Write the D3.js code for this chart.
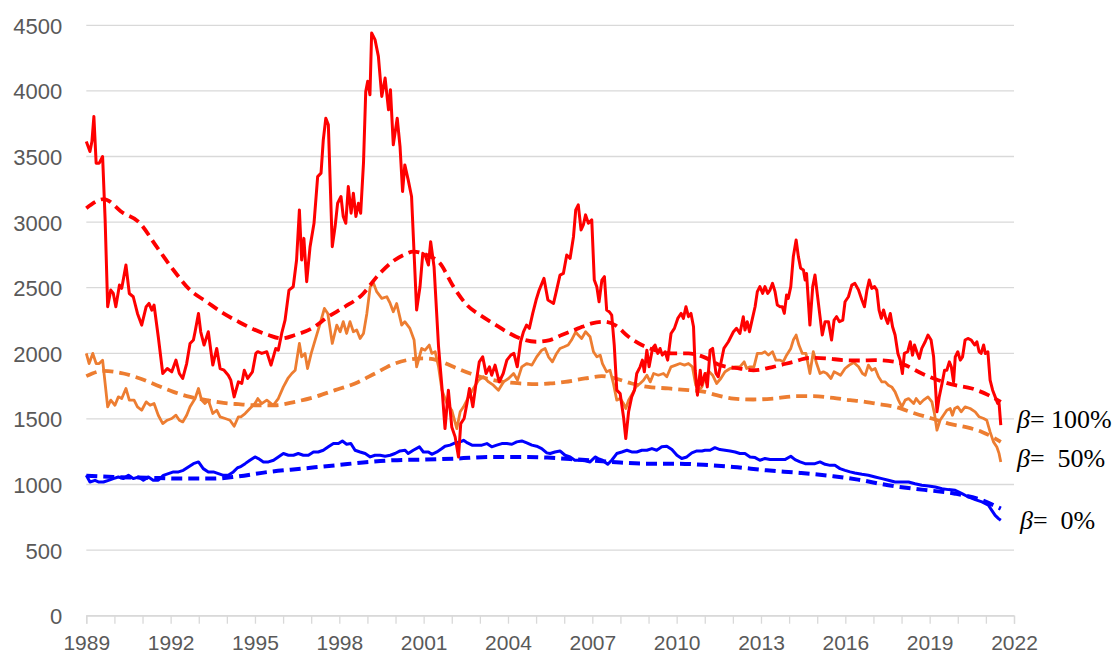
<!DOCTYPE html>
<meta charset="utf-8">
<style>
  body { margin: 0; background: #fff; }
  .grid line { stroke: #d9d9d9; stroke-width: 1.3; }
  .axis text { fill: #595959; font-family: "Liberation Sans", Arial, sans-serif; }
  .beta { font-family: "Liberation Serif", "Times New Roman", serif; font-size: 26px; fill: #000; white-space: pre; }
</style>
<body></body>
<script src="https://d3js.org/d3.v7.min.js"></script>
<script>
// values: [year, value]
var red100 = [[1989.00,3614],[1989.13,3538],[1989.20,3614],[1989.27,3805],[1989.35,3449],[1989.46,3449],[1989.58,3500],[1989.67,3017],[1989.76,2355],[1989.87,2482],[1989.96,2456],[1990.05,2355],[1990.18,2520],[1990.26,2495],[1990.41,2673],[1990.53,2456],[1990.67,2431],[1990.82,2304],[1990.97,2215],[1991.13,2355],[1991.23,2380],[1991.33,2329],[1991.41,2368],[1991.56,2126],[1991.72,1846],[1991.88,1884],[1992.04,1859],[1992.19,1948],[1992.31,1846],[1992.43,1808],[1992.57,1922],[1992.69,2075],[1992.81,2101],[1992.87,2164],[1992.99,2304],[1993.07,2164],[1993.19,2063],[1993.34,2164],[1993.50,1910],[1993.64,2037],[1993.76,1884],[1993.90,1871],[1994.05,1833],[1994.14,1795],[1994.26,1668],[1994.41,1782],[1994.53,1770],[1994.62,1871],[1994.74,1808],[1994.91,1859],[1995.03,1999],[1995.10,2012],[1995.24,1999],[1995.42,2012],[1995.57,1910],[1995.74,2037],[1995.83,2024],[1995.95,2151],[1996.07,2253],[1996.21,2482],[1996.36,2507],[1996.48,2711],[1996.58,3093],[1996.66,2711],[1996.74,2876],[1996.84,2546],[1996.96,2813],[1997.10,2991],[1997.23,3347],[1997.35,3373],[1997.43,3627],[1997.52,3792],[1997.61,3741],[1997.75,2813],[1997.85,2966],[1997.94,3144],[1998.06,3195],[1998.14,3042],[1998.23,2991],[1998.32,3271],[1998.42,3068],[1998.50,3220],[1998.59,3042],[1998.68,3144],[1998.76,3068],[1998.86,3449],[1998.94,3996],[1999.01,4073],[1999.09,3971],[1999.15,4441],[1999.27,4391],[1999.39,4263],[1999.51,3958],[1999.63,4098],[1999.75,3856],[1999.82,4009],[1999.92,3589],[2000.06,3792],[2000.16,3576],[2000.25,3233],[2000.33,3436],[2000.45,3322],[2000.57,3195],[2000.66,2762],[2000.75,2330],[2000.87,2507],[2000.97,2762],[2001.05,2749],[2001.17,2673],[2001.25,2851],[2001.37,2660],[2001.53,2050],[2001.65,1744],[2001.76,1426],[2001.88,1719],[2002.00,1439],[2002.12,1363],[2002.24,1210],[2002.32,1464],[2002.44,1503],[2002.54,1617],[2002.63,1732],[2002.75,1592],[2002.87,1782],[2002.98,1935],[2003.10,1973],[2003.22,1846],[2003.34,1897],[2003.42,1833],[2003.54,1910],[2003.69,1782],[2003.83,1846],[2003.96,1948],[2004.10,1986],[2004.21,1999],[2004.33,1897],[2004.45,2088],[2004.55,2164],[2004.66,2215],[2004.76,2190],[2004.88,2304],[2005.00,2406],[2005.11,2482],[2005.28,2571],[2005.42,2406],[2005.62,2380],[2005.73,2482],[2005.85,2596],[2005.97,2609],[2006.09,2749],[2006.21,2724],[2006.33,2889],[2006.41,3093],[2006.50,3131],[2006.60,2940],[2006.68,2978],[2006.76,3055],[2006.86,2991],[2006.98,3017],[2007.07,2558],[2007.16,2507],[2007.24,2393],[2007.34,2558],[2007.43,2584],[2007.51,2330],[2007.60,2317],[2007.69,2291],[2007.78,2063],[2007.87,1719],[2007.99,1693],[2008.11,1515],[2008.19,1350],[2008.29,1554],[2008.40,1668],[2008.50,1719],[2008.58,1846],[2008.70,1897],[2008.78,1948],[2008.85,1859],[2008.94,2024],[2009.02,1897],[2009.14,2037],[2009.23,2063],[2009.33,1999],[2009.41,2037],[2009.49,1986],[2009.59,2012],[2009.68,1948],[2009.80,2151],[2009.92,2190],[2010.04,2266],[2010.16,2304],[2010.24,2266],[2010.33,2355],[2010.42,2279],[2010.51,2304],[2010.60,2202],[2010.66,1871],[2010.74,1681],[2010.84,1871],[2010.89,1757],[2011.01,1846],[2011.09,1744],[2011.19,2024],[2011.28,2037],[2011.40,1846],[2011.48,1821],[2011.57,1922],[2011.68,2037],[2011.84,2088],[2012.02,2164],[2012.13,2190],[2012.25,2151],[2012.37,2279],[2012.43,2177],[2012.51,2241],[2012.59,2164],[2012.67,2241],[2012.79,2355],[2012.87,2470],[2012.96,2508],[2013.06,2457],[2013.14,2508],[2013.24,2457],[2013.32,2482],[2013.41,2533],[2013.50,2470],[2013.58,2368],[2013.68,2355],[2013.76,2355],[2013.83,2304],[2013.91,2444],[2013.97,2419],[2014.06,2508],[2014.15,2737],[2014.25,2864],[2014.33,2737],[2014.41,2648],[2014.51,2635],[2014.57,2559],[2014.62,2609],[2014.74,2215],[2014.84,2508],[2014.92,2597],[2015.00,2457],[2015.10,2279],[2015.18,2139],[2015.28,2241],[2015.40,2241],[2015.51,2101],[2015.60,2253],[2015.69,2279],[2015.79,2241],[2015.91,2253],[2015.99,2393],[2016.11,2431],[2016.23,2520],[2016.34,2533],[2016.47,2482],[2016.59,2406],[2016.68,2355],[2016.77,2482],[2016.85,2559],[2016.94,2495],[2017.04,2508],[2017.12,2482],[2017.20,2330],[2017.28,2266],[2017.36,2330],[2017.44,2266],[2017.51,2228],[2017.60,2304],[2017.68,2202],[2017.77,2139],[2017.87,1999],[2017.95,1948],[2018.03,1846],[2018.10,1999],[2018.22,2012],[2018.31,2088],[2018.39,1986],[2018.46,2063],[2018.54,2012],[2018.63,1961],[2018.72,2037],[2018.84,2088],[2018.94,2139],[2019.05,2101],[2019.14,1973],[2019.20,1770],[2019.26,1554],[2019.34,1668],[2019.44,1770],[2019.53,1871],[2019.61,1871],[2019.70,1935],[2019.77,1897],[2019.85,1782],[2019.91,1973],[2020.00,2012],[2020.09,1948],[2020.17,1973],[2020.26,2101],[2020.36,2113],[2020.48,2101],[2020.60,2063],[2020.68,2088],[2020.76,2012],[2020.83,1999],[2020.92,2063],[2020.98,1999],[2021.07,2012],[2021.15,1795],[2021.24,1719],[2021.33,1668],[2021.42,1617],[2021.47,1617],[2021.53,1452]];

var red100Trend = [[1989.00,3106],[1989.62,3175],[1990.32,3068],[1990.85,3004],[1991.50,2813],[1992.10,2635],[1992.69,2482],[1993.28,2393],[1993.88,2304],[1994.41,2241],[1994.88,2190],[1995.48,2139],[1995.95,2113],[1996.42,2139],[1997.02,2190],[1997.61,2279],[1998.20,2355],[1998.80,2444],[1999.39,2597],[1999.90,2700],[2000.28,2749],[2000.63,2775],[2001.11,2749],[2001.58,2686],[2002.06,2508],[2002.54,2368],[2003.01,2291],[2003.48,2228],[2003.96,2164],[2004.43,2113],[2005.02,2088],[2005.49,2101],[2005.91,2139],[2006.50,2190],[2006.98,2228],[2007.40,2241],[2007.81,2215],[2008.29,2126],[2008.76,2063],[2009.23,2024],[2009.83,1999],[2010.42,1999],[2010.95,1973],[2011.54,1910],[2012.25,1884],[2012.73,1871],[2013.44,1897],[2014.15,1935],[2014.74,1965],[2015.34,1961],[2015.93,1948],[2016.52,1945],[2017.06,1948],[2017.77,1935],[2018.13,1910],[2018.72,1846],[2019.31,1795],[2019.91,1757],[2020.50,1732],[2021.09,1681],[2021.53,1630]];

var orange50 = [[1989.00,1999],[1989.10,1922],[1989.23,1999],[1989.35,1922],[1989.46,1922],[1989.58,1948],[1989.67,1770],[1989.76,1592],[1989.87,1643],[1990.02,1604],[1990.14,1668],[1990.26,1655],[1990.41,1732],[1990.53,1643],[1990.70,1643],[1990.82,1592],[1990.97,1566],[1991.13,1630],[1991.27,1604],[1991.41,1617],[1991.56,1528],[1991.72,1464],[1991.88,1490],[1992.04,1503],[1992.19,1528],[1992.31,1490],[1992.43,1477],[1992.57,1528],[1992.69,1592],[1992.87,1655],[1992.99,1732],[1993.10,1643],[1993.22,1617],[1993.34,1643],[1993.50,1541],[1993.64,1566],[1993.76,1516],[1993.94,1503],[1994.11,1490],[1994.26,1444],[1994.41,1516],[1994.50,1516],[1994.65,1541],[1994.82,1579],[1995.00,1617],[1995.10,1655],[1995.24,1617],[1995.42,1643],[1995.65,1604],[1995.83,1655],[1996.01,1744],[1996.17,1808],[1996.31,1846],[1996.43,1871],[1996.58,2075],[1996.66,1973],[1996.78,1999],[1996.87,1884],[1997.00,1999],[1997.14,2101],[1997.32,2228],[1997.47,2342],[1997.59,2304],[1997.75,2075],[1997.91,2215],[1998.03,2164],[1998.14,2241],[1998.26,2151],[1998.38,2241],[1998.50,2164],[1998.62,2177],[1998.74,2113],[1998.86,2151],[1998.98,2304],[1999.10,2508],[1999.22,2533],[1999.33,2470],[1999.51,2419],[1999.69,2431],[1999.81,2380],[1999.92,2317],[2000.04,2380],[2000.22,2215],[2000.33,2241],[2000.51,2190],[2000.66,2101],[2000.75,1897],[2000.93,2037],[2001.05,2024],[2001.20,2063],[2001.29,1999],[2001.41,2012],[2001.53,1897],[2001.65,1719],[2001.83,1617],[2002.00,1566],[2002.18,1426],[2002.30,1554],[2002.42,1592],[2002.60,1668],[2002.77,1732],[2002.95,1795],[2003.13,1821],[2003.31,1782],[2003.48,1757],[2003.66,1719],[2003.84,1782],[2004.02,1808],[2004.20,1846],[2004.34,1795],[2004.49,1897],[2004.67,1922],[2004.85,1910],[2005.02,1973],[2005.20,2024],[2005.32,2037],[2005.44,1973],[2005.58,1935],[2005.73,1999],[2005.85,2037],[2006.00,2050],[2006.14,2063],[2006.26,2101],[2006.41,2164],[2006.50,2139],[2006.62,2113],[2006.76,2164],[2006.92,2126],[2007.04,2012],[2007.16,1973],[2007.28,1986],[2007.36,1922],[2007.51,1859],[2007.63,1871],[2007.75,1770],[2007.87,1643],[2007.99,1655],[2008.11,1617],[2008.19,1579],[2008.29,1643],[2008.43,1693],[2008.55,1744],[2008.70,1770],[2008.82,1795],[2008.94,1833],[2009.06,1782],[2009.18,1846],[2009.35,1833],[2009.53,1846],[2009.65,1821],[2009.80,1897],[2009.97,1910],[2010.12,1922],[2010.28,1910],[2010.42,1922],[2010.56,1897],[2010.68,1757],[2010.78,1719],[2010.90,1744],[2011.05,1846],[2011.16,1859],[2011.28,1833],[2011.42,1770],[2011.57,1808],[2011.72,1859],[2011.90,1884],[2012.08,1897],[2012.25,1897],[2012.40,1935],[2012.49,1884],[2012.61,1897],[2012.75,1897],[2012.87,1999],[2013.02,1999],[2013.14,2012],[2013.26,1986],[2013.41,2012],[2013.53,1948],[2013.68,1948],[2013.79,1935],[2013.91,1986],[2014.06,2037],[2014.15,2101],[2014.25,2139],[2014.35,2063],[2014.47,1999],[2014.60,1999],[2014.74,1846],[2014.86,2012],[2014.98,1922],[2015.10,1846],[2015.22,1859],[2015.34,1846],[2015.49,1808],[2015.60,1859],[2015.72,1846],[2015.83,1833],[2015.99,1884],[2016.14,1910],[2016.30,1930],[2016.47,1897],[2016.61,1846],[2016.71,1833],[2016.82,1910],[2016.94,1871],[2017.06,1884],[2017.18,1821],[2017.30,1782],[2017.42,1782],[2017.53,1757],[2017.65,1744],[2017.77,1706],[2017.89,1643],[2018.01,1592],[2018.13,1643],[2018.25,1655],[2018.43,1617],[2018.52,1655],[2018.66,1617],[2018.78,1643],[2018.94,1668],[2019.08,1630],[2019.17,1541],[2019.26,1414],[2019.37,1490],[2019.49,1528],[2019.61,1566],[2019.73,1579],[2019.81,1528],[2019.89,1579],[2020.00,1592],[2020.12,1554],[2020.26,1592],[2020.44,1579],[2020.62,1554],[2020.76,1516],[2020.92,1503],[2021.03,1490],[2021.15,1401],[2021.27,1325],[2021.39,1286],[2021.47,1235],[2021.53,1172]];

var orange50Trend = [[1989.00,1826],[1989.61,1866],[1990.32,1846],[1990.91,1808],[1991.50,1757],[1992.10,1706],[1992.69,1668],[1993.28,1643],[1993.88,1622],[1994.41,1612],[1995.00,1604],[1995.71,1604],[1996.42,1630],[1997.14,1668],[1997.85,1719],[1998.56,1770],[1999.27,1846],[1999.90,1915],[2000.40,1948],[2000.99,1961],[2001.47,1948],[2002.06,1897],[2002.66,1846],[2003.25,1808],[2003.84,1782],[2004.43,1770],[2005.02,1765],[2005.49,1770],[2006.03,1782],[2006.74,1808],[2007.34,1826],[2007.81,1808],[2008.40,1770],[2008.99,1744],[2009.70,1732],[2010.42,1719],[2010.95,1708],[2011.42,1681],[2012.02,1655],[2012.73,1648],[2013.44,1655],[2014.27,1673],[2014.86,1673],[2015.57,1660],[2016.17,1643],[2016.52,1636],[2017.06,1617],[2017.77,1592],[2018.48,1541],[2019.08,1503],[2019.67,1464],[2020.26,1439],[2020.86,1401],[2021.53,1325]];

var blue0 = [[1989.00,1070],[1989.13,1019],[1989.31,1032],[1989.45,1019],[1989.61,1019],[1989.79,1032],[1989.96,1045],[1990.14,1057],[1990.32,1045],[1990.50,1070],[1990.67,1045],[1990.86,1057],[1991.03,1032],[1991.21,1057],[1991.38,1032],[1991.56,1032],[1991.74,1070],[1991.92,1083],[1992.10,1096],[1992.28,1096],[1992.45,1108],[1992.63,1134],[1992.81,1159],[1992.99,1172],[1993.16,1121],[1993.34,1096],[1993.52,1096],[1993.70,1083],[1993.88,1070],[1994.05,1070],[1994.23,1096],[1994.38,1128],[1994.47,1134],[1994.65,1159],[1994.82,1185],[1995.00,1210],[1995.12,1198],[1995.30,1172],[1995.48,1172],[1995.66,1185],[1995.83,1210],[1996.01,1236],[1996.19,1223],[1996.37,1223],[1996.54,1236],[1996.72,1223],[1996.90,1223],[1997.08,1248],[1997.25,1248],[1997.43,1261],[1997.61,1287],[1997.79,1312],[1997.97,1312],[1998.11,1332],[1998.26,1307],[1998.41,1312],[1998.56,1261],[1998.74,1248],[1998.92,1236],[1999.10,1210],[1999.27,1223],[1999.45,1223],[1999.63,1216],[1999.81,1223],[1999.98,1236],[2000.16,1256],[2000.34,1261],[2000.45,1236],[2000.63,1261],[2000.85,1287],[2000.99,1248],[2001.17,1248],[2001.29,1230],[2001.47,1248],[2001.65,1274],[2001.76,1292],[2001.94,1300],[2002.12,1317],[2002.30,1325],[2002.42,1337],[2002.56,1317],[2002.72,1300],[2002.89,1300],[2003.07,1300],[2003.25,1312],[2003.42,1287],[2003.60,1300],[2003.78,1312],[2003.96,1312],[2004.14,1307],[2004.31,1325],[2004.49,1332],[2004.67,1317],[2004.85,1300],[2005.02,1292],[2005.20,1274],[2005.38,1241],[2005.50,1236],[2005.67,1248],[2005.85,1256],[2006.03,1223],[2006.21,1210],[2006.38,1185],[2006.56,1185],[2006.74,1180],[2006.92,1172],[2007.10,1210],[2007.21,1198],[2007.36,1185],[2007.55,1154],[2007.69,1185],[2007.87,1236],[2008.05,1248],[2008.23,1261],[2008.40,1248],[2008.58,1248],[2008.76,1261],[2008.94,1261],[2009.12,1274],[2009.29,1261],[2009.47,1287],[2009.65,1292],[2009.83,1266],[2010.01,1223],[2010.18,1198],[2010.36,1210],[2010.54,1241],[2010.72,1256],[2010.90,1256],[2011.01,1261],[2011.19,1261],[2011.36,1281],[2011.54,1266],[2011.72,1261],[2011.90,1256],[2012.08,1248],[2012.25,1236],[2012.43,1236],[2012.61,1210],[2012.79,1205],[2012.96,1185],[2013.14,1198],[2013.32,1190],[2013.50,1190],[2013.68,1190],[2013.85,1190],[2014.06,1215],[2014.21,1190],[2014.39,1172],[2014.57,1159],[2014.74,1159],[2014.92,1159],[2015.10,1172],[2015.28,1154],[2015.46,1146],[2015.63,1146],[2015.81,1121],[2015.99,1108],[2016.17,1096],[2016.34,1088],[2016.59,1078],[2016.82,1070],[2017.06,1057],[2017.30,1045],[2017.53,1032],[2017.77,1019],[2018.01,1019],[2018.25,1019],[2018.48,1006],[2018.72,994],[2018.96,989],[2019.20,981],[2019.44,968],[2019.67,961],[2019.91,956],[2020.15,930],[2020.38,905],[2020.62,885],[2020.86,867],[2021.09,842],[2021.21,803],[2021.33,765],[2021.45,740],[2021.53,727]];

var blue0Trend = [[1989.00,1067],[1989.96,1057],[1991.15,1052],[1992.33,1045],[1993.52,1045],[1994.35,1060],[1995.48,1096],[1996.66,1121],[1997.85,1146],[1999.04,1172],[1999.90,1185],[2000.99,1190],[2002.18,1198],[2003.36,1210],[2004.55,1210],[2005.40,1205],[2006.50,1190],[2007.69,1172],[2008.87,1159],[2010.06,1159],[2010.95,1150],[2012.02,1134],[2013.20,1108],[2014.39,1088],[2015.57,1063],[2016.45,1037],[2017.53,994],[2018.72,961],[2019.91,930],[2020.86,880],[2021.53,816]];

var yTicks = [0, 500, 1000, 1500, 2000, 2500, 3000, 3500, 4000, 4500];
var xLabelYears = [1989, 1992, 1995, 1998, 2001, 2004, 2007, 2010, 2013, 2016, 2019, 2022];
var betaLabels = ["100%", " 50%", " 0%"];

var width = 1119, height = 655;
var x = d3.scaleLinear().domain([1989, 2022]).range([86.3, 1014]);
var y = d3.scaleLinear().domain([0, 4500]).range([615.7, 25.3]);

var svg = d3.select("body").append("svg")
    .attr("width", width)
    .attr("height", height);

// horizontal gridlines
svg.append("g")
    .attr("class", "grid")
    .selectAll("line")
    .data(yTicks)
    .enter().append("line")
    .attr("x1", x(1989))
    .attr("x2", x(2022))
    .attr("y1", d => y(d))
    .attr("y2", d => y(d));

// y axis labels
svg.append("g")
    .attr("class", "axis")
    .attr("transform", "translate(" + (x(1989) - 24) + ",0)")
    .call(d3.axisLeft(y).tickValues(yTicks).tickSize(0).tickFormat(d3.format("d")))
    .call(g => g.select(".domain").remove())
    .selectAll("text")
    .style("font-size", "22px")
    .attr("x", 0)
    .attr("dy", "0.36em");

// x axis: yearly ticks, label every 3 years
var xAxis = svg.append("g")
    .attr("class", "axis")
    .attr("transform", "translate(0," + y(0) + ")")
    .call(d3.axisBottom(x).tickValues(d3.range(1989, 2023)).tickSize(8)
        .tickFormat(d => xLabelYears.includes(d) ? String(d) : ""));
xAxis.select(".domain").attr("stroke", "#d9d9d9").attr("stroke-width", 1.3);
xAxis.selectAll(".tick line").attr("stroke", "#d9d9d9").attr("stroke-width", 1.3);
xAxis.selectAll("text").style("font-size", "21px").attr("y", 34).attr("dy", "0");

var line = d3.line().x(d => x(d[0])).y(d => y(d[1]));
var smooth = d3.line().x(d => x(d[0])).y(d => y(d[1])).curve(d3.curveMonotoneX);

function draw(data, gen, color, w, dash) {
  svg.append("path")
      .datum(data)
      .attr("fill", "none")
      .attr("stroke", color)
      .attr("stroke-width", w)
      .attr("stroke-linejoin", "round")
      .attr("stroke-dasharray", dash)
      .attr("d", gen);
}

draw(blue0, line, "#0000ff", 3, null);
draw(blue0Trend, smooth, "#0000ff", 4, "11,6");
draw(orange50, line, "#ed7d31", 2.8, null);
draw(orange50Trend, smooth, "#ed7d31", 3.8, "11,6");
draw(red100, line, "#ff0000", 3, null);
draw(red100Trend, smooth, "#ff0000", 3.8, "11,6");

// beta annotations at right
var labelPos = [[1017, 428], [1017, 467], [1020, 529]];
betaLabels.forEach(function (pct, i) {
  var t = svg.append("text")
      .attr("class", "beta")
      .attr("x", labelPos[i][0])
      .attr("y", labelPos[i][1]);
  t.append("tspan").style("font-style", "italic").text("β");
  t.append("tspan").text("= " + pct);
});
</script>
